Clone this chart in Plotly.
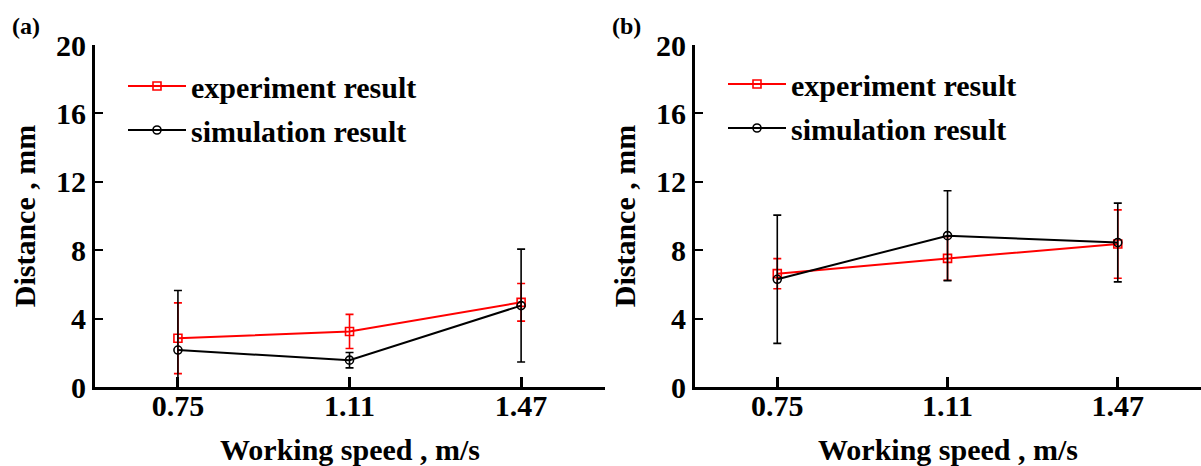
import plotly.graph_objects as go

speeds = [0.75, 1.11, 1.47]
tick_text = ["0.75", "1.11", "1.47"]

# Panel (a)
exp_a = [2.85, 3.25, 4.95]
exp_a_err = [2.07, 1.0, 1.1]
sim_a = [2.16, 1.57, 4.76]
sim_a_err = [3.48, 0.45, 3.3]

# Panel (b)
exp_b = [6.63, 7.52, 8.36]
exp_b_err = [0.88, 1.28, 2.0]
sim_b = [6.3, 8.85, 8.45]
sim_b_err = [3.75, 2.63, 2.3]

FONT = "Liberation Serif, Times New Roman, serif"
RED = "#ff0000"
BLACK = "#000000"

fig = go.Figure()

def add_series(x, y, err, color, symbol, name, xa, ya, legend, group):
    fig.add_trace(go.Scatter(
        x=x, y=y, mode="lines+markers", name=name,
        line=dict(color=color, width=2),
        marker=dict(symbol=symbol, size=8, color="rgba(255,255,255,0)",
                    line=dict(color=color, width=1.6)),
        error_y=dict(type="data", array=err, visible=True,
                     color=color, thickness=1.6, width=4),
        xaxis=xa, yaxis=ya, legend=legend, legendgroup=group,
    ))

add_series(speeds, exp_a, exp_a_err, RED, "square", "experiment result", "x", "y", "legend", "ea")
add_series(speeds, sim_a, sim_a_err, BLACK, "circle", "simulation result", "x", "y", "legend", "sa")
add_series(speeds, exp_b, exp_b_err, RED, "square", "experiment result", "x2", "y2", "legend2", "eb")
add_series(speeds, sim_b, sim_b_err, BLACK, "circle", "simulation result", "x2", "y2", "legend2", "sb")

W, H = 1201, 466
def px(x):
    return x / W
def py(y):
    return 1 - y / H

FS = 30
xrange_ = [0.576, 1.646]
common_x = dict(
    range=xrange_, tickvals=speeds, ticktext=tick_text,
    showline=True, linewidth=3, linecolor="black",
    ticks="inside", ticklen=10, tickwidth=3, tickcolor="black",
    showgrid=False, zeroline=False, ticklabelstandoff=-10, automargin=False,
    tickfont=dict(family=FONT, size=FS, color="black", weight="bold"),
    title=dict(text="Working speed , m/s", standoff=28,
               font=dict(family=FONT, size=FS, color="black", weight="bold")),
)
common_y = dict(
    range=[0, 20], tickvals=[0, 4, 8, 12, 16, 20],
    showline=True, linewidth=3, linecolor="black",
    ticks="inside", ticklen=8, tickwidth=2, tickcolor="black",
    showgrid=False, zeroline=False, automargin=False,
    tickfont=dict(family=FONT, size=FS, color="black", weight="bold"),
    title=dict(text="Distance , mm", standoff=12,
               font=dict(family=FONT, size=FS, color="black", weight="bold")),
)

ydom = [py(387), py(45)]
leg_common = dict(
    font=dict(family=FONT, size=FS, color="black", weight="bold"),
    bgcolor="rgba(0,0,0,0)", itemwidth=58, tracegroupgap=2,
    traceorder="grouped", xanchor="left", yanchor="top",
)

fig.update_layout(
    width=W, height=H,
    margin=dict(l=0, r=0, t=0, b=0),
    paper_bgcolor="white", plot_bgcolor="white",
    xaxis=dict(domain=[px(95), px(605)], anchor="y", **common_x),
    yaxis=dict(domain=ydom, anchor="x", **common_y),
    xaxis2=dict(domain=[px(695), 1.0], anchor="y2", **common_x),
    yaxis2=dict(domain=ydom, anchor="x2", **common_y),
    legend=dict(x=px(123), y=py(60), **leg_common),
    legend2=dict(x=px(723), y=py(58), **leg_common),
    annotations=[
        dict(text="(a)", x=px(10), y=py(26), xref="paper", yref="paper",
             xanchor="left", yanchor="middle", showarrow=False,
             font=dict(family=FONT, size=24, color="black", weight="bold")),
        dict(text="(b)", x=px(610), y=py(26), xref="paper", yref="paper",
             xanchor="left", yanchor="middle", showarrow=False,
             font=dict(family=FONT, size=24, color="black", weight="bold")),
    ],
)

fig.write_html("out.html")
